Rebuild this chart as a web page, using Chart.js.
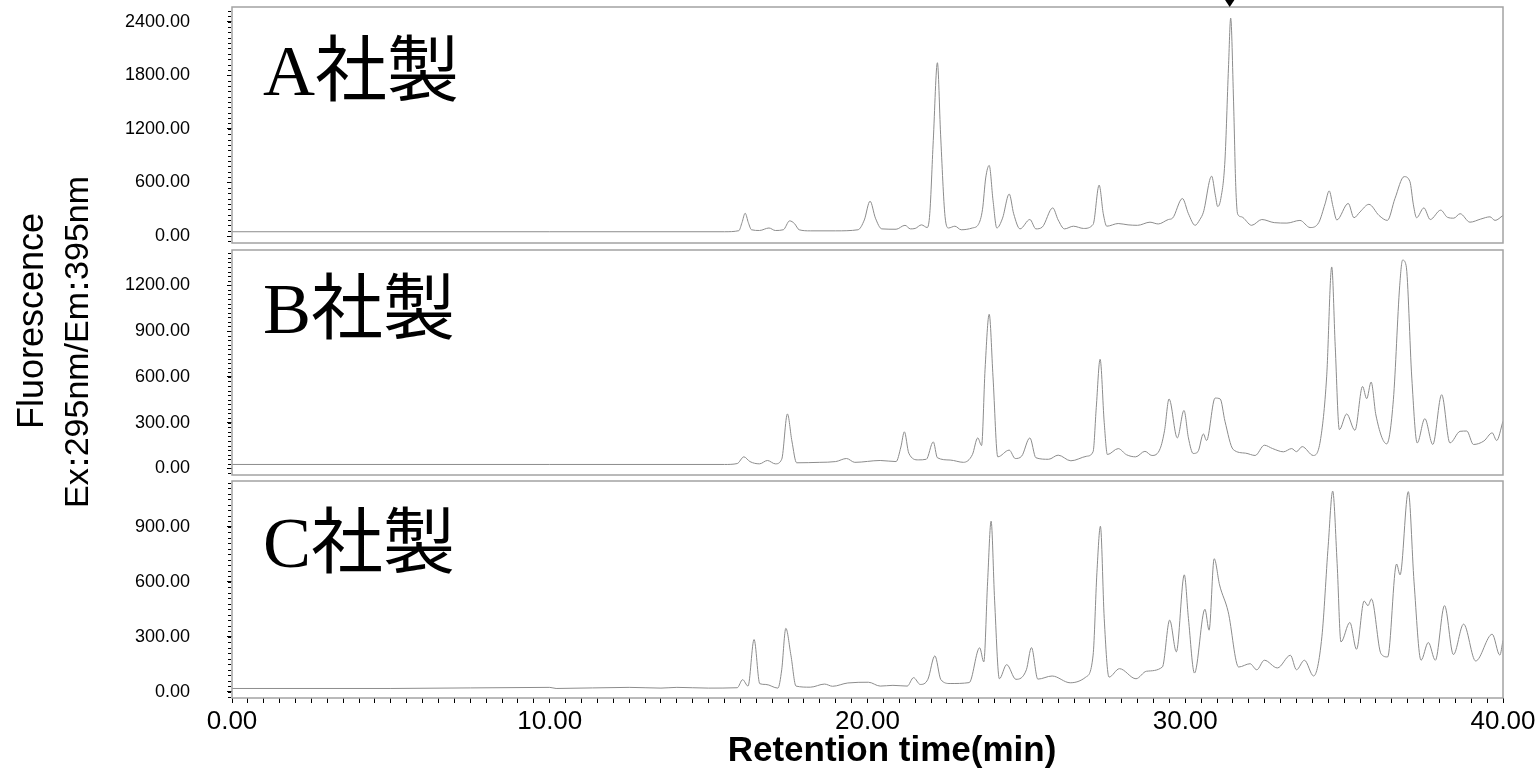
<!DOCTYPE html>
<html>
<head>
<meta charset="utf-8">
<script src="https://cdn.jsdelivr.net/npm/chart.js@4.4.0/dist/chart.umd.min.js"></script>
<style>
  html, body { margin: 0; padding: 0; background: #fff; }
  #wrap { position: relative; width: 1538px; height: 768px; overflow: hidden; }
  #wrap canvas { position: absolute; left: 0; top: 0; }
</style>
</head>
<body>
<div id="wrap">
  <canvas id="chartA" width="1538" height="768"></canvas>
  <canvas id="chartB" width="1538" height="768"></canvas>
  <canvas id="chartC" width="1538" height="768"></canvas>
</div>
<script>
// retention time (min) / fluorescence
const timeA = [0, 10, 15.5, 15.95, 16.05, 16.15, 16.25, 16.35, 16.6, 16.9, 17.1, 17.35, 17.55, 17.7, 17.85, 18.2, 19.0, 19.7, 19.9, 20.08,
  20.25, 20.45, 20.9, 21.18, 21.35, 21.5, 21.7, 21.88, 21.96, 22.07, 22.2, 22.3, 22.44, 22.55, 22.75, 22.95, 23.3, 23.49, 23.62, 23.72,
  23.83, 23.95, 24.07, 24.25, 24.46, 24.6, 24.8, 25.11, 25.3, 25.5, 25.83, 26.0, 26.2, 26.48, 26.8, 27.1, 27.29, 27.42, 27.53, 27.89,
  28.2, 28.5, 28.89, 29.15, 29.47, 29.6, 29.91, 30.1, 30.31, 30.46, 30.57, 30.83, 30.95, 31.02, 31.12, 31.25, 31.36, 31.43, 31.52, 31.59,
  31.65, 31.77, 32.09, 32.41, 32.8, 33.2, 33.61, 33.93, 34.2, 34.4, 34.53, 34.65, 34.77, 35.13, 35.31, 35.5, 35.78, 36.1, 36.36, 36.6,
  36.89, 37.07, 37.18, 37.28, 37.51, 37.71, 38.04, 38.25, 38.45, 38.65, 38.96, 39.3, 39.59, 39.75, 40.0];
const fluorA = [48, 48, 48, 60, 150, 255, 150, 70, 62, 90, 62, 70, 170, 140, 70, 58, 58, 70, 180, 390,
  200, 80, 76, 120, 80, 85, 125, 95, 250, 1070, 1940, 1140, 220, 90, 110, 70, 90, 130, 300, 650,
  790, 400, 90, 200, 470, 250, 80, 185, 80, 100, 315, 180, 80, 110, 85, 130, 570, 250, 110, 140,
  125, 120, 155, 135, 185, 200, 420, 250, 120, 185, 265, 670, 450, 330, 420, 850, 1880, 2440, 1510, 555,
  245, 215, 120, 185, 150, 145, 175, 95, 150, 360, 505, 330, 180, 365, 205, 270, 355, 230, 175, 420,
  665, 610, 350, 205, 315, 185, 290, 210, 200, 250, 155, 190, 215, 175, 230];

const timeB = [0, 10, 15.5, 15.9, 16.11, 16.3, 16.6, 16.85, 17.1, 17.3, 17.48, 17.62, 17.77, 18.5, 19.0, 19.34, 19.6, 20.4, 20.9, 21.05,
  21.16, 21.3, 21.6, 21.85, 22.07, 22.2, 22.6, 23.02, 23.3, 23.47, 23.59, 23.7, 23.83, 23.95, 24.1, 24.46, 24.65, 24.85, 25.11, 25.3,
  25.7, 26.0, 26.4, 26.9, 27.1, 27.2, 27.32, 27.45, 27.55, 27.89, 28.15, 28.44, 28.73, 28.95, 29.21, 29.35, 29.49, 29.75, 29.96, 30.1,
  30.25, 30.4, 30.57, 30.67, 30.94, 31.1, 31.25, 31.51, 31.9, 32.2, 32.49, 32.75, 33.09, 33.35, 33.5, 33.68, 34.03, 34.25, 34.45, 34.61,
  34.72, 34.85, 35.08, 35.34, 35.58, 35.71, 35.85, 36.0, 36.34, 36.55, 36.75, 36.84, 36.95, 37.13, 37.3, 37.54, 37.79, 38.07, 38.33, 38.65,
  38.86, 39.07, 39.4, 39.66, 39.8, 40.0];
const fluorB = [26, 26, 26, 32, 76, 45, 30, 52, 30, 60, 357, 180, 37, 40, 45, 65, 40, 52, 45, 140,
  240, 100, 56, 60, 174, 70, 55, 40, 90, 200, 150, 650, 1010, 600, 76, 120, 65, 80, 200, 70,
  60, 87, 50, 80, 110, 400, 715, 300, 91, 130, 90, 76, 112, 85, 130, 250, 455, 200, 380, 200,
  98, 110, 226, 183, 461, 455, 309, 124, 100, 85, 152, 130, 109, 130, 110, 143, 85, 180, 600, 1320,
  800, 254, 357, 250, 537, 457, 566, 350, 161, 450, 1200, 1365, 1330, 592, 167, 326, 157, 483, 167, 243,
  245, 157, 180, 233, 183, 309];

const timeC = [0, 5, 10.0, 10.2, 12.5, 13.5, 14.0, 15.0, 15.9, 16.07, 16.24, 16.43, 16.61, 16.8, 17.18, 17.3, 17.43, 17.59, 17.75, 18.2,
  18.65, 18.9, 19.38, 20.03, 20.4, 20.8, 21.25, 21.45, 21.66, 21.9, 22.12, 22.31, 22.6, 23.2, 23.53, 23.66, 23.78, 23.89, 24.0, 24.15,
  24.38, 24.67, 25.0, 25.16, 25.36, 25.81, 26.38, 26.87, 27.1, 27.22, 27.33, 27.45, 27.6, 27.93, 28.45, 28.78, 29.28, 29.51, 29.72, 29.97,
  30.1, 30.29, 30.62, 30.75, 30.91, 31.08, 31.35, 31.68, 32.04, 32.25, 32.49, 32.9, 33.31, 33.5, 33.75, 34.04, 34.3, 34.5, 34.64, 34.78,
  34.9, 35.18, 35.39, 35.63, 35.75, 35.86, 36.16, 36.37, 36.65, 36.76, 37.02, 37.2, 37.42, 37.65, 37.87, 38.16, 38.44, 38.76, 39.14, 39.66,
  39.9, 40.0];
const fluorC = [18, 18, 24, 18, 24, 20, 24, 20, 22, 66, 31, 285, 44, 40, 20, 120, 346, 199, 31, 25,
  42, 30, 48, 52, 31, 35, 31, 77, 40, 68, 196, 66, 45, 50, 240, 163, 600, 931, 500, 71,
  148, 68, 120, 241, 69, 86, 49, 80, 200, 650, 903, 400, 80, 126, 71, 112, 135, 391, 218, 638,
  400, 102, 450, 336, 726, 583, 437, 135, 153, 120, 172, 130, 199, 120, 172, 86, 300, 800, 1095, 700,
  272, 378, 232, 495, 470, 506, 208, 190, 697, 638, 1092, 600, 172, 269, 172, 470, 203, 369, 168, 314,
  200, 280];

// tick values
const xMajor = [0, 10, 20, 30, 40];
const yTicksA = [0, 600, 1200, 1800, 2400];
const yTicksB = [0, 300, 600, 900, 1200];
const yTicksC = [0, 300, 600, 900];
const markerTime = 31.4;   // ▼ above the tallest peak of A

const lineColor = '#8c8c8c';
const frameColor = '#a3a3a3';
const sans = '"Liberation Sans", Arial, sans-serif';

const panelPlugin = {
  id: 'panel',
  afterDraw(chart, args, opts) {
    const { ctx, chartArea: a } = chart;
    const y = chart.scales.y;
    ctx.save();
    // minor ticks on the y axis
    ctx.strokeStyle = '#000';
    ctx.lineWidth = 1;
    ctx.beginPath();
    for (let v = Math.ceil(y.min / opts.minor) * opts.minor; v <= y.max; v += opts.minor) {
      const py = Math.round(y.getPixelForValue(v)) + 0.5;
      ctx.moveTo(a.left - 4, py);
      ctx.lineTo(a.left - 1, py);
    }
    ctx.stroke();
    // frame
    ctx.strokeStyle = frameColor;
    ctx.lineWidth = 1.5;
    ctx.strokeRect(a.left, a.top, a.right - a.left, a.bottom - a.top);
    // panel label
    ctx.fillStyle = '#000';
    ctx.font = '72px "Liberation Serif", "Noto Sans CJK JP", serif';
    ctx.textAlign = 'left';
    ctx.textBaseline = 'alphabetic';
    ctx.fillText(opts.label, a.left + 31, a.top + opts.labelDy);

    if (opts.marker) {
      const mx = chart.scales.x.getPixelForValue(markerTime);
      ctx.beginPath();
      ctx.moveTo(mx - 6, a.top - 9);
      ctx.lineTo(mx + 6, a.top - 9);
      ctx.lineTo(mx, a.top);
      ctx.closePath();
      ctx.fill();
    }
    if (opts.titles) {
      ctx.font = 'bold 35px ' + sans;
      ctx.textAlign = 'center';
      ctx.fillText('Retention time(min)', 892, 761);

      ctx.font = '36px ' + sans;
      ctx.save();
      ctx.translate(43, 321);
      ctx.rotate(-Math.PI / 2);
      ctx.fillText('Fluorescence', 0, 0);
      ctx.restore();

      // second line: the full-width colons sit in narrow slots, as in the original
      const parts = ['Ex', '：', '295nm/Em', '：', '395nm'];
      const slot = 12;
      ctx.font = '34px ' + sans;
      const total = parts.reduce((w, p) => w + (p === '：' ? slot : ctx.measureText(p).width), 0);
      ctx.save();
      ctx.translate(88, 342);
      ctx.rotate(-Math.PI / 2);
      let cx = -total / 2;
      parts.forEach(p => {
        if (p === '：') {
          ctx.textAlign = 'center';
          ctx.fillText(p, cx + slot / 2, 0);
          cx += slot;
        } else {
          ctx.textAlign = 'left';
          ctx.fillText(p, cx, 0);
          cx += ctx.measureText(p).width;
        }
      });
      ctx.restore();
    }
    ctx.restore();
  }
};

function makePanel(id, times, values, cfg) {
  return new Chart(document.getElementById(id), {
    type: 'line',
    data: {
      datasets: [{
        data: times.map((t, i) => ({ x: t, y: values[i] })),
        borderColor: lineColor,
        borderWidth: 1,
        pointRadius: 0,
        cubicInterpolationMode: 'monotone',
        fill: false
      }]
    },
    options: {
      responsive: false,
      animation: false,
      devicePixelRatio: 1,
      layout: { padding: { left: 0, right: 35, top: cfg.top, bottom: cfg.bottom } },
      plugins: {
        legend: { display: false },
        tooltip: { enabled: false },
        panel: cfg.panel
      },
      scales: {
        x: {
          type: 'linear',
          display: cfg.showX,
          min: 0,
          max: 40,
          afterFit(s) {
            if (cfg.showX) { s.height = 70; }
            s.paddingLeft = 0;
            s.paddingRight = 0;
          },
          border: { display: false },
          grid: { drawOnChartArea: false, tickLength: 5, tickColor: '#000' },
          ticks: {
            stepSize: 0.5,
            autoSkip: false,
            maxTicksLimit: 200,
            maxRotation: 0,
            padding: 3,
            color: '#000',
            font: { family: sans, size: 26 },
            callback: v => xMajor.includes(v) ? v.toFixed(2) : ''
          }
        },
        y: {
          min: cfg.min,
          max: cfg.max,
          afterBuildTicks(s) { s.ticks = cfg.ticks.map(v => ({ value: v })); },
          afterFit(s) { s.width = 232; s.paddingTop = 0; s.paddingBottom = 0; },
          border: { display: false },
          grid: { drawOnChartArea: false, tickLength: 5, tickColor: '#000' },
          ticks: {
            padding: 37,
            color: '#000',
            font: { family: sans, size: 18 },
            callback: v => v.toFixed(2)
          }
        }
      }
    },
    plugins: [panelPlugin]
  });
}

makePanel('chartA', timeA, fluorA, {
  top: 7, bottom: 525, showX: false, min: -78, max: 2564, ticks: yTicksA,
  panel: { label: 'A社製', labelDy: 88, minor: 60, marker: true }
});
makePanel('chartB', timeB, fluorB, {
  top: 250, bottom: 293, showX: false, min: -43, max: 1431, ticks: yTicksB,
  panel: { label: 'B社製', labelDy: 83, minor: 30 }
});
makePanel('chartC', timeC, fluorC, {
  top: 481, bottom: 0, showX: true, min: -34, max: 1150, ticks: yTicksC,
  panel: { label: 'C社製', labelDy: 86, minor: 30, titles: true }
});
</script>
</body>
</html>
